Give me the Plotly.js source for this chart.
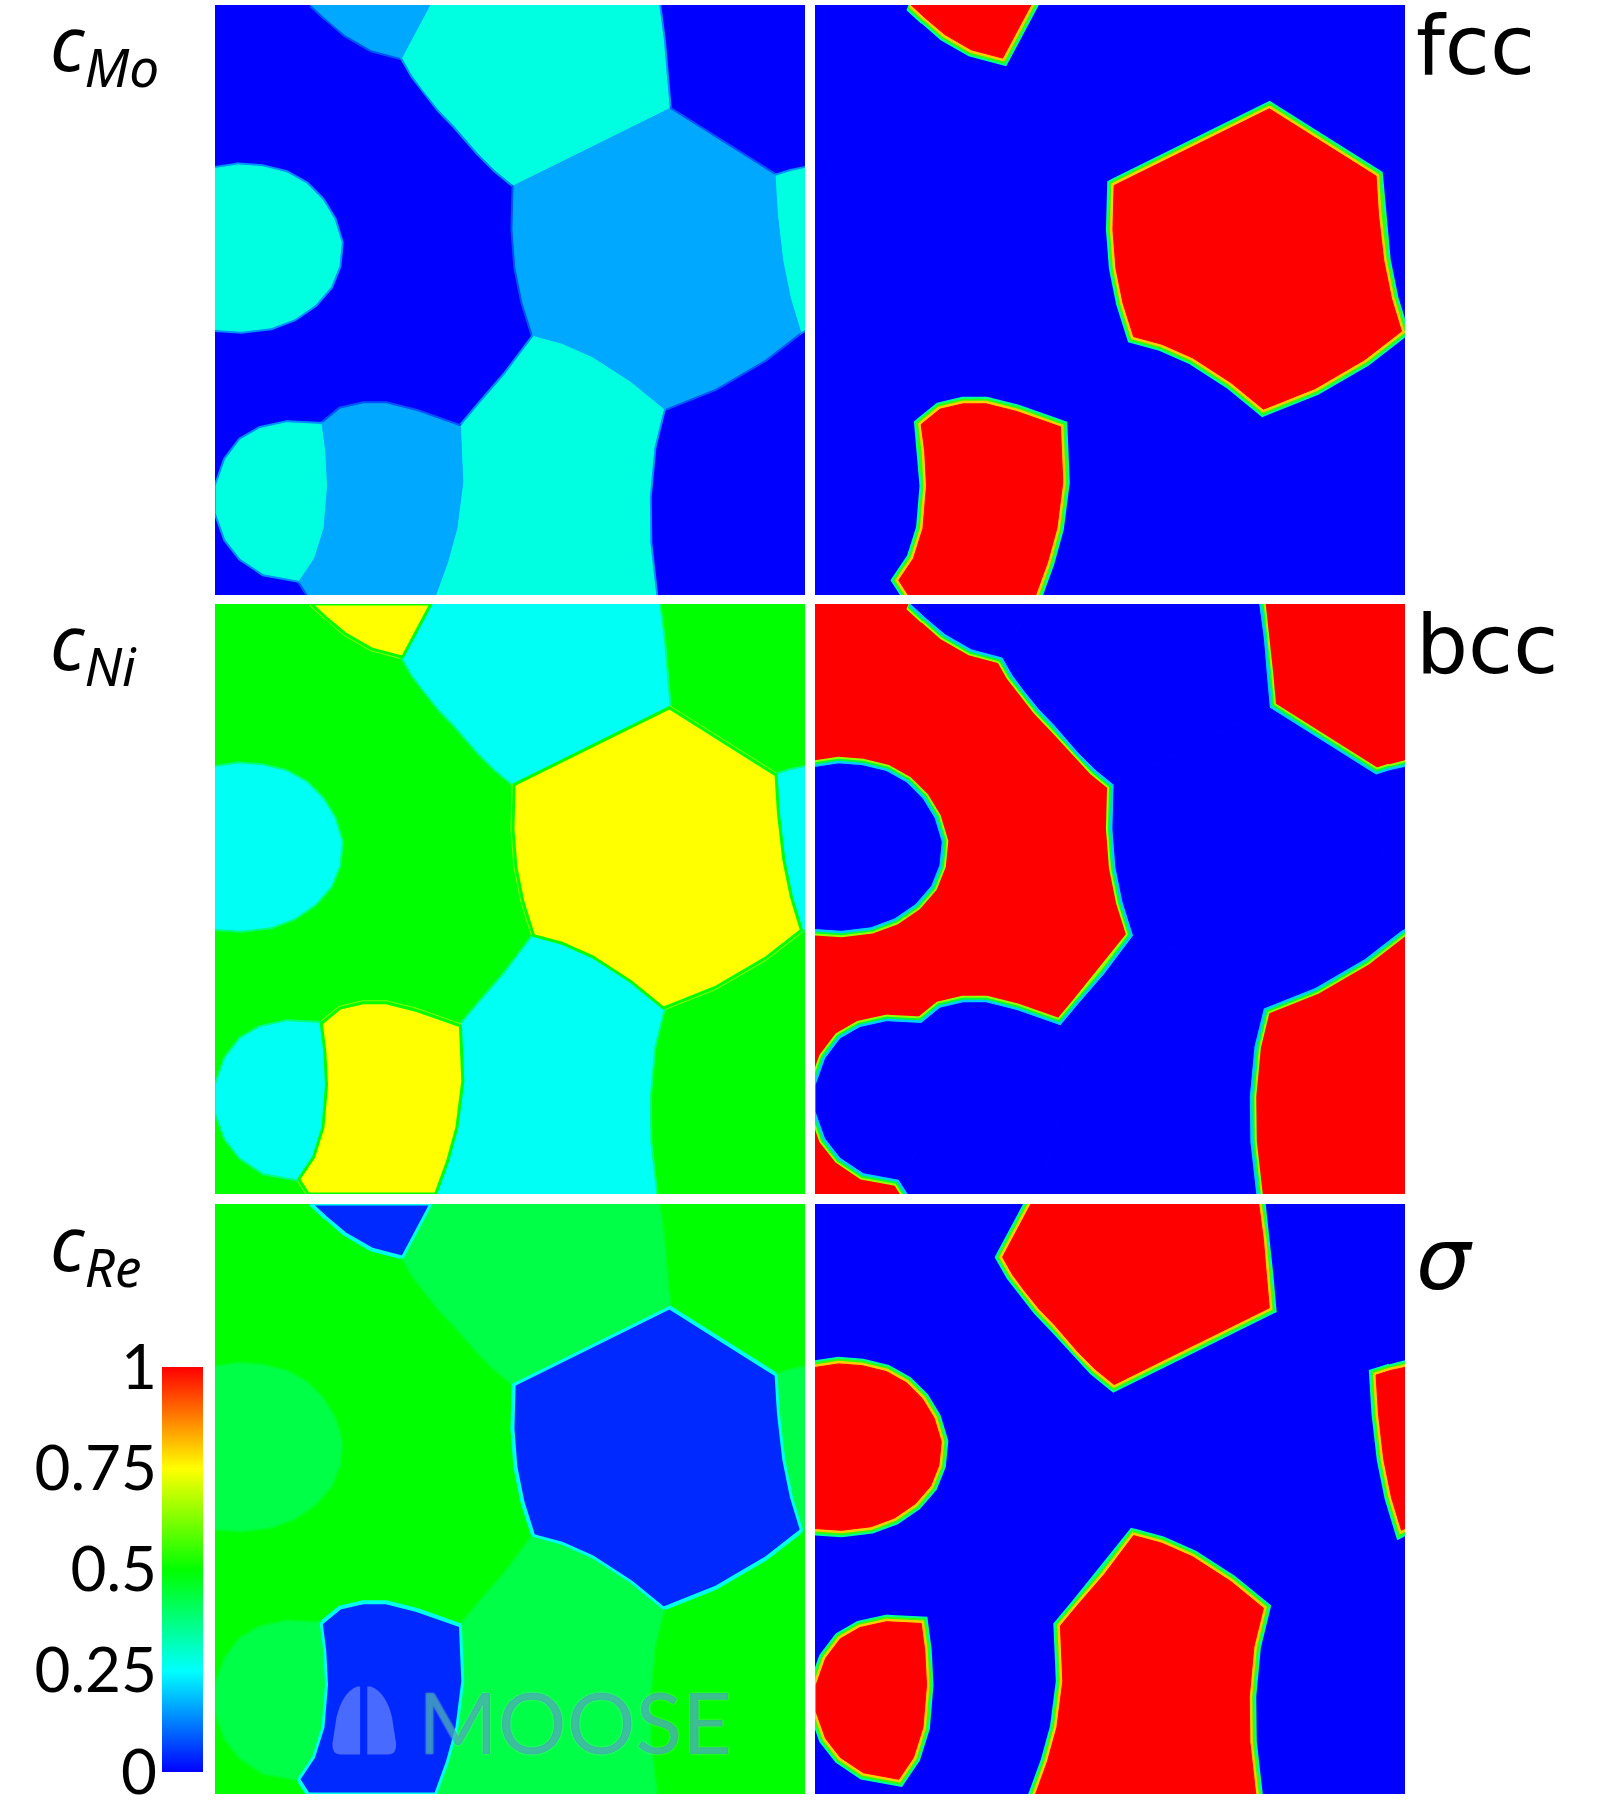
<!DOCTYPE html>
<html>
<head>
<meta charset="utf-8">
<script src="https://cdn.plot.ly/plotly-3.0.1.min.js"></script>
<style>
  html, body { margin: 0; padding: 0; background: #fff; }
  #plot { width: 1620px; height: 1800px; }
</style>
</head>
<body>
<div id="plot"></div>
<script>
// ── Data ─────────────────────────────────────────────────────────────────────

// Phases and the concentration each one carries
const PHASES = ['bcc', 'fcc', 'sigma'];
const C_MO   = [0.00, 0.165, 0.28];
const C_NI   = [0.50, 0.75, 0.26];
const C_RE   = [0.50, 0.04, 0.43];
const ELEMENTS = ['Mo', 'Ni', 'Re'];
const PHASE_LABELS = ['fcc', 'bcc', 'σ'];

// Colour bar
const CBAR_TICKS  = [0, 0.25, 0.5, 0.75, 1];
const CBAR_LABELS = ['0', '0.25', '0.5', '0.75', '1'];

// Grain outlines, in % of the panel (x to the right, y downwards).
// Everything not covered by a grain is bcc matrix.
const fccTop      = [[16.3,0],[18.8,2.3],[22.0,5.0],[26.5,7.6],[31.8,9.0],[36.6,0]];
const sigmaTop    = [[36.6,0],[31.8,9.0],[33.5,12.0],[35.5,14.7],[38.0,17.8],[40.7,20.6],[44.6,25.1],
                     [47.5,28.0],[50.7,30.6],[77.0,17.6],[76.5,12.0],[76.0,6.0],[75.2,0]];
const fccHex      = [[50.7,30.6],[77.0,17.6],[95.1,29.0],[95.5,35.5],[96.4,43.3],[97.7,49.7],[99.4,55.3],
                     [93.2,60.1],[84.8,65.0],[76.0,68.5],[70.5,64.0],[64.0,59.8],[58.8,57.5],[54.0,56.2],
                     [52.2,50.5],[51.0,44.6],[50.5,38.1]];
const sigmaRight  = [[95.1,29.0],[97.6,28.2],[100,27.7],[100,55.0],[99.4,55.3],[97.7,49.7],[96.4,43.3],[95.5,35.5]];
const sigmaLeft   = [[0,27.7],[4.0,27.1],[8.0,27.4],[12.1,28.4],[15.5,30.3],[18.2,33.0],[20.2,36.3],[21.4,40.3],
                     [21.0,44.3],[19.6,47.8],[17.0,50.8],[13.5,53.2],[9.5,54.7],[4.5,55.3],[0,55.0]];
const sigmaBottom = [[54.0,56.2],[58.8,57.5],[64.0,59.8],[70.5,64.0],[76.0,68.5],[74.4,75.0],[73.6,83.5],
                     [73.7,91.2],[74.7,100],[37.4,100],[39.4,94.5],[41.0,88.7],[42.0,80.9],[41.6,71.5],
                     [44.6,67.9],[49.1,62.7]];
const fccBottom   = [[18.0,71.1],[21.2,68.5],[25.1,67.6],[29.0,67.6],[34.2,68.9],[41.6,71.5],[42.0,80.9],
                     [41.0,88.7],[39.4,94.5],[37.4,100],[15.8,100],[14.2,97.5],[16.7,93.8],[18.3,88.7],
                     [18.9,81.5],[18.6,75.7]];
const sigmaCorner = [[18.0,71.1],[12.1,70.8],[7.6,71.8],[4.3,73.7],[1.8,77.0],[0.2,81.5],[0.2,86.1],
                     [1.8,90.6],[4.3,93.8],[8.2,96.4],[14.2,97.5],[16.7,93.8],[18.3,88.7],[18.9,81.5],[18.6,75.7]];

const GRAINS      = [fccTop, sigmaTop, fccHex, sigmaRight, sigmaLeft, sigmaBottom, fccBottom, sigmaCorner];
const GRAIN_PHASE = ['fcc', 'sigma', 'fcc', 'sigma', 'sigma', 'sigma', 'fcc', 'sigma'];

// ── Colour scale ─────────────────────────────────────────────────────────────

const RAINBOW = [[0, '#0000ff'], [0.25, '#00ffff'], [0.5, '#00ff00'], [0.75, '#ffff00'], [1, '#ff0000']];

const hexRgb = h => [1, 3, 5].map(i => parseInt(h.slice(i, i + 2), 16));

function colorAt(v) {
  v = Math.max(0, Math.min(1, v));
  for (let i = 1; i < RAINBOW.length; i++) {
    const [v1, c1] = RAINBOW[i];
    if (v <= v1) {
      const [v0, c0] = RAINBOW[i - 1];
      const t = (v - v0) / (v1 - v0);
      const a = hexRgb(c0), b = hexRgb(c1);
      return `rgb(${a.map((x, k) => Math.round(x + (b[k] - x) * t)).join(',')})`;
    }
  }
  return RAINBOW[RAINBOW.length - 1][1];
}

// ── Layout geometry (pixels of the 1620x1800 page) ───────────────────────────

const W = 1620, H = 1800;
const PANEL_X = [215, 815], PANEL_Y = [5, 604, 1204], PANEL_SIZE = 590;

const PANELS = [
  { axis: 1, col: 0, row: 0, kind: 'comp',  values: C_MO, rim: null },
  { axis: 2, col: 1, row: 0, kind: 'phase', phase: 'fcc' },
  { axis: 3, col: 0, row: 1, kind: 'comp',  values: C_NI, rim: { phase: 'fcc', value: 0.5 } },
  { axis: 4, col: 1, row: 1, kind: 'phase', phase: 'bcc' },
  { axis: 5, col: 0, row: 2, kind: 'comp',  values: C_RE, rim: { phase: 'fcc', value: 0.27 } },
  { axis: 6, col: 1, row: 2, kind: 'phase', phase: 'sigma' },
];

const traces = [], shapes = [], annotations = [];
const layout = {
  width: W, height: H,
  margin: { l: 0, r: 0, t: 0, b: 0 },
  paper_bgcolor: '#ffffff', plot_bgcolor: 'rgba(0,0,0,0)',
  showlegend: false, hovermode: false,
  shapes, annotations,
};

// ── Trace helpers ────────────────────────────────────────────────────────────

// repeat the first two points so the start vertex gets a proper line join
const closed = pts => pts.concat([pts[0], pts[1]]);

function outline(pts, sfx, color, width) {
  const p = closed(pts);
  return {
    type: 'scatter', mode: 'lines', xaxis: 'x' + sfx, yaxis: 'y' + sfx,
    x: p.map(q => q[0]), y: p.map(q => q[1]),
    line: { color, width }, hoverinfo: 'skip',
  };
}

function filled(pts, sfx, color) {
  const p = pts.concat([pts[0]]);
  return {
    type: 'scatter', mode: 'lines', xaxis: 'x' + sfx, yaxis: 'y' + sfx,
    x: p.map(q => q[0]), y: p.map(q => q[1]),
    fill: 'toself', fillcolor: color,
    line: { color, width: 1 }, hoverinfo: 'skip',
  };
}

// ── Panels ───────────────────────────────────────────────────────────────────

PANELS.forEach(p => {
  const sfx = p.axis === 1 ? '' : String(p.axis);
  const x0 = PANEL_X[p.col], y0 = PANEL_Y[p.row];
  layout['xaxis' + sfx] = {
    domain: [x0 / W, (x0 + PANEL_SIZE) / W], range: [0, 100],
    visible: false, fixedrange: true, anchor: 'y' + sfx,
  };
  layout['yaxis' + sfx] = {
    domain: [1 - (y0 + PANEL_SIZE) / H, 1 - y0 / H], range: [100, 0],
    visible: false, fixedrange: true, anchor: 'x' + sfx,
  };

  // value of every grain and of the matrix in this panel
  const valueOf = phase => p.kind === 'comp'
    ? p.values[PHASES.indexOf(phase)]
    : (phase === p.phase ? 1 : 0);
  const bg = valueOf('bcc');

  shapes.push({
    type: 'rect', xref: 'x' + sfx + ' domain', yref: 'y' + sfx + ' domain',
    x0: 0, x1: 1, y0: 0, y1: 1, fillcolor: colorAt(bg),
    line: { width: 0 }, layer: 'below',
  });

  const grains = GRAINS
    .map((pts, i) => ({ pts, phase: GRAIN_PHASE[i], v: valueOf(GRAIN_PHASE[i]) }))
    .filter(g => g.v !== bg);

  if (p.kind === 'phase') {
    // diffuse interface: bands drawn under the fills, only their outer half stays visible
    [[14, 0.35], [10, 0.55], [6, 0.8]].forEach(([w, f]) => {
      grains.forEach(g => traces.push(outline(g.pts, sfx, colorAt(bg + (g.v - bg) * f), w)));
    });
  } else {
    grains.forEach(g => traces.push(outline(g.pts, sfx, colorAt((g.v + bg) / 2), 5)));
  }

  grains.forEach(g => traces.push(filled(g.pts, sfx, colorAt(g.v))));

  if (p.kind === 'comp' && p.rim) {
    grains.filter(g => g.phase === p.rim.phase)
      .forEach(g => traces.push(outline(g.pts, sfx, colorAt(p.rim.value), 3)));
  }
});

// ── Colour bar (its own axis, labels on the left) ───────────────────────────

traces.push({
  type: 'heatmap', xaxis: 'x7', yaxis: 'y7',
  x: [0, 1], y: CBAR_TICKS, z: CBAR_TICKS.map(v => [v, v]),
  colorscale: RAINBOW, zmin: 0, zmax: 1, zsmooth: 'best',
  showscale: false, hoverinfo: 'skip',
});
layout.xaxis7 = { domain: [162 / W, 203 / W], range: [0, 1], visible: false, fixedrange: true, anchor: 'y7' };
layout.yaxis7 = {
  domain: [1 - 1772 / H, 1 - 1367 / H], range: [0, 1], anchor: 'x7', side: 'left',
  tickvals: CBAR_TICKS, ticktext: CBAR_LABELS, ticks: '',
  showgrid: false, zeroline: false, showline: false, fixedrange: true,
  ticklabelstandoff: 4, ticklabeloverflow: 'allow',
  tickfont: { family: 'Lato, sans-serif', size: 62, color: '#000000' },
};

// ── Labels ──────────────────────────────────────────────────────────────────

ELEMENTS.forEach((el, i) => annotations.push({
  xref: 'paper', yref: 'paper', x: 48 / W, y: 1 - (PANEL_Y[i] + 42) / H,
  xanchor: 'left', yanchor: 'middle', showarrow: false,
  text: `<i>c</i><sub><i>${el}</i></sub>`,
  font: { family: 'Noto Sans, sans-serif', size: 76, color: '#000000' },
}));

PHASE_LABELS.forEach((lab, i) => {
  const sigma = lab === 'σ';
  annotations.push({
    xref: 'paper', yref: 'paper', x: 1414 / W, y: 1 - (PANEL_Y[i] + (sigma ? 55 : 40)) / H,
    xanchor: 'left', yanchor: 'middle', showarrow: false,
    text: sigma ? '<i>σ</i>' : lab,
    font: { family: 'DejaVu Sans, sans-serif', size: sigma ? 86 : 82, color: '#000000' },
  });
});

// ── MOOSE watermark on the c_Re panel ───────────────────────────────────────

annotations.push({
  xref: 'x5', yref: 'y5', x: 34.0, y: 87.6, xanchor: 'left', yanchor: 'middle',
  showarrow: false, text: 'MOOSE',
  font: { family: 'Lato, sans-serif', size: 86, color: 'rgba(30,150,165,0.62)',
          shadow: '0 0 2px rgba(255,255,255,0.7)' },
});
shapes.push(
  { type: 'path', xref: 'x5', yref: 'y5', layer: 'above', line: { width: 0 },
    fillcolor: 'rgba(120,150,255,0.6)',
    path: 'M 24.6,93.3 L 21.2,93.3 Q 19.8,93.3 19.9,91.5 L 20.6,87 Q 21.6,82.8 24.1,81.8 L 24.6,81.8 Z' },
  { type: 'path', xref: 'x5', yref: 'y5', layer: 'above', line: { width: 0 },
    fillcolor: 'rgba(120,150,255,0.6)',
    path: 'M 25.8,93.3 L 29.4,93.3 Q 30.8,93.3 30.7,91.5 L 30.0,87 Q 29.0,82.8 26.4,81.8 L 25.8,81.8 Z' },
);

Plotly.newPlot('plot', traces, layout, { staticPlot: true, displayModeBar: false });
</script>
</body>
</html>
